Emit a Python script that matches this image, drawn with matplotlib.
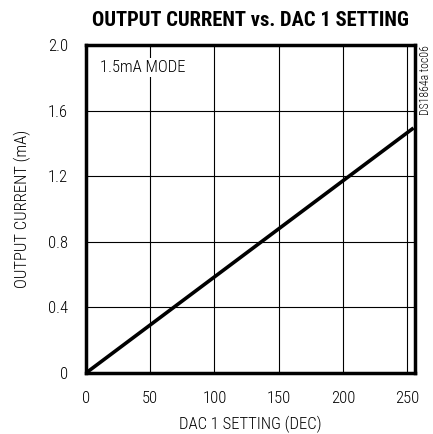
import numpy as np
import matplotlib.pyplot as plt
from matplotlib import font_manager

names = {f.name for f in font_manager.fontManager.ttflist}
def pick(*cands):
    for c in cands:
        if c in names:
            return c
    return 'Liberation Sans'

body = pick('Roboto Condensed', 'Archivo Narrow', 'PT Sans Narrow')
head = pick('Roboto Condensed', 'Archivo Narrow')
plt.rcParams['font.family'] = [body, 'DejaVu Sans']
plt.rcParams['font.weight'] = 300
plt.rcParams['axes.labelweight'] = 300

dac_setting = [0, 255]
output_current = [0.0, 1.494]

x_ticks = [0, 50, 100, 150, 200, 250]
y_ticks = [0, 0.4, 0.8, 1.2, 1.6, 2.0]
y_labels = ['0', '0.4', '0.8', '1.2', '1.6', '2.0']

fig = plt.figure(figsize=(4.33, 4.34), dpi=100)
ax = fig.add_axes([0.1986, 0.1406, 0.7594, 0.7557])

ax.plot(dac_setting, output_current, color='black', lw=2.6, solid_capstyle='butt')

ax.set_xlim(0, 256)
ax.set_ylim(0, 2.0)
ax.set_xticks(x_ticks)
ax.set_yticks(y_ticks)
ax.set_yticklabels(y_labels)
ax.grid(True, color='black', lw=0.8)
ax.tick_params(length=0, labelsize=12, pad=13)
for s in ax.spines.values():
    s.set_linewidth(2.5)

ax.set_xlabel('DAC 1 SETTING (DEC)', fontsize=12, labelpad=7, fontweight=300)
ax.set_ylabel('OUTPUT CURRENT (mA)', fontsize=12, labelpad=12, fontweight=300)
ax.set_title('OUTPUT CURRENT vs. DAC 1 SETTING', fontsize=14.8, fontweight=900,
             family=[head, 'DejaVu Sans'], pad=14)

ax.text(0.043, 0.93, '1.5mA MODE', transform=ax.transAxes, fontsize=12, va='center',
        bbox=dict(facecolor='white', edgecolor='none', pad=1.5))
fig.text(0.982, 0.816, 'DS1864a toc06', rotation=90, fontsize=8.5, ha='center', va='center')

fig.savefig('out.png', dpi=100)
